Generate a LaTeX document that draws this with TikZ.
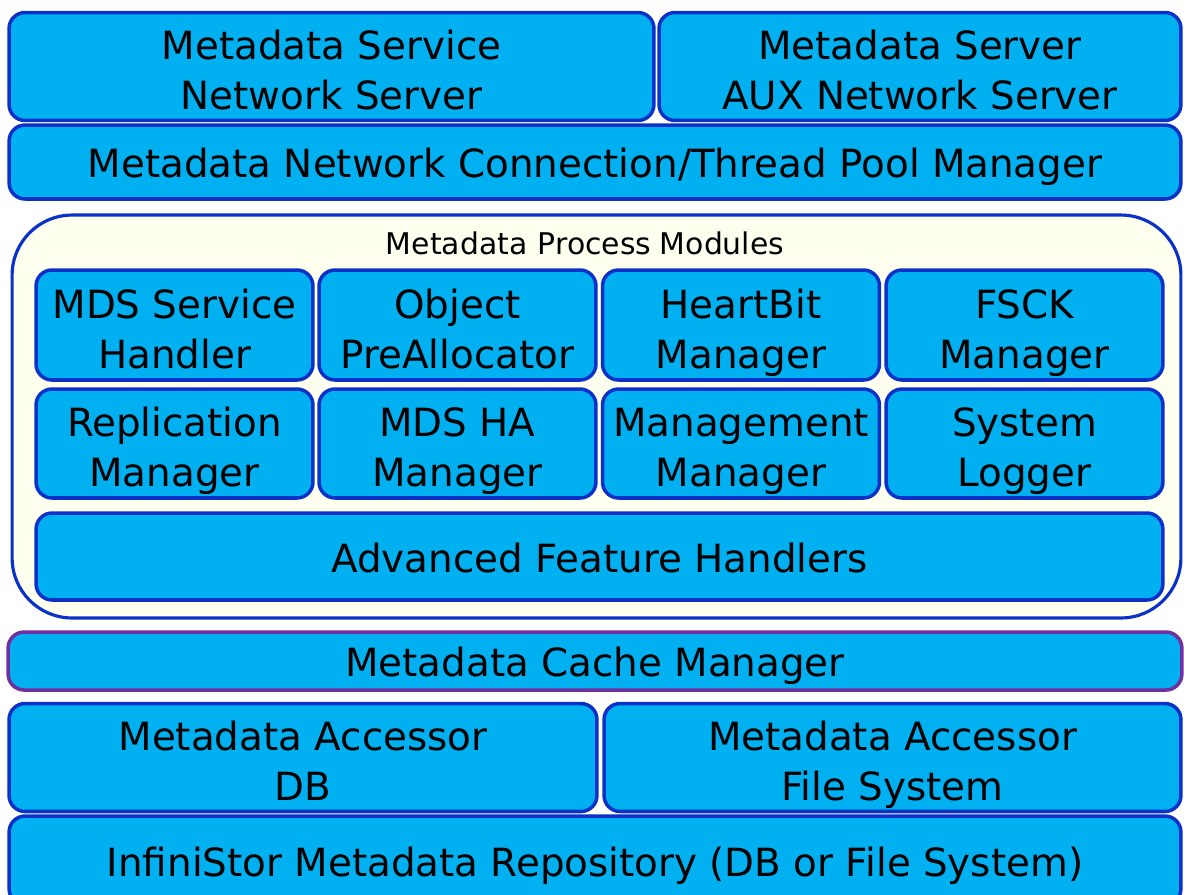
\documentclass[tikz,border=0pt]{standalone}
\usepackage{fontspec}
\setmainfont{DejaVu Sans}
\definecolor{boxfill}{RGB}{0,176,240}
\definecolor{boxline}{RGB}{10,50,200}
\definecolor{cacheline}{RGB}{112,48,160}
\definecolor{panelfill}{RGB}{255,255,240}
% fixed line boxes so every label sits at the same height in its box
\newcommand\twolines[2]{\rule{0pt}{27pt}#1\\#2\rule[-6pt]{0pt}{6pt}}
\newcommand\oneline[1]{\rule{0pt}{24pt}#1\rule[-6pt]{0pt}{6pt}}
\begin{document}
\begin{tikzpicture}[x=0.02cm,y=-0.02cm,
  blk/.style={draw=boxline, fill=boxfill, line width=2pt, rounded corners=0.32cm,
    align=center, inner sep=0pt, text=black,
    font=\fontsize{22.1}{28.45}\selectfont},
  modbox/.style={blk, minimum width=5.54cm},
  panel/.style={draw=boxline, fill=panelfill, line width=1.8pt, rounded corners=1.2cm, inner sep=0pt},
  paneltitle/.style={font=\fontsize{17}{20}\selectfont, inner sep=0pt}]
\useasboundingbox (0,0) rectangle (1184,894);
\clip (0,0) rectangle (1184,894);
\fill[white] (0,0) rectangle (1184,894);

% network layer
\node[blk, minimum width=12.9cm, minimum height=2.1cm] (svc) at (331.5,66.5) {\twolines{Metadata Service}{Network Server}};
\node[blk, minimum width=10.44cm, minimum height=2.1cm] (aux) at (920,66.5) {\twolines{Metadata Server}{AUX Network Server}};
\node[blk, minimum width=23.44cm, minimum height=1.48cm] (pool) at (595,162) {\oneline{Metadata Network Connection/Thread Pool Manager}};

% process modules panel
\node[panel, minimum width=23.38cm, minimum height=8.06cm] (panel) at (596.5,416.5) {};
\node[paneltitle] (ptitle) at (585,243) {Metadata\hspace{6pt}Process\hspace{5pt}Modules};

\node[modbox, minimum height=2.2cm] (mds) at (174.5,325) {\twolines{MDS Service}{Handler}};
\node[modbox, minimum height=2.2cm] (obj) at (457.5,325) {\twolines{Object}{PreAllocator}};
\node[modbox, minimum height=2.2cm] (hb) at (741,325) {\twolines{HeartBit}{Manager}};
\node[modbox, minimum height=2.2cm] (fsck) at (1024.5,325) {\twolines{FSCK}{Manager}};

\node[modbox, minimum height=2.18cm] (rep) at (174.5,443.5) {\twolines{Replication}{Manager}};
\node[modbox, minimum height=2.18cm] (ha) at (457.5,443.5) {\twolines{MDS HA}{Manager}};
\node[modbox, minimum height=2.18cm] (mgmt) at (741,443.5) {\twolines{Management}{Manager}};
\node[modbox, minimum height=2.18cm] (log) at (1024.5,443.5) {\twolines{System}{Logger}};

\node[blk, minimum width=22.54cm, minimum height=1.74cm] (adv) at (599.5,556.5) {\oneline{Advanced Feature Handlers}};

% storage layers
\node[blk, draw=cacheline, minimum width=23.48cm, minimum height=1.16cm] (cache) at (595,661) {\oneline{Metadata Cache Manager}};
\node[blk, minimum width=11.76cm, minimum height=2.14cm] (accdb) at (303,757.5) {\twolines{Metadata Accessor}{DB}};
\node[blk, minimum width=11.54cm, minimum height=2.14cm] (accfs) at (892.5,757.5) {\twolines{Metadata Accessor}{File System}};
\node[blk, minimum width=23.44cm, minimum height=1.78cm] (repo) at (595,860.5) {\oneline{InfiniStor Metadata Repository (DB or File System)}};
\end{tikzpicture}
\end{document}
